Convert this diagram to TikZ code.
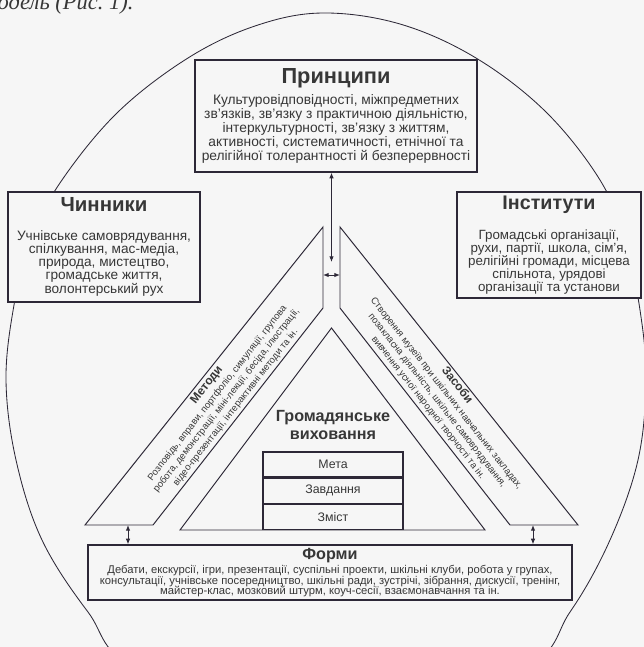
\documentclass[tikz,border=0pt]{standalone}
\usepackage{fontspec}
\setmainfont{Liberation Sans}
\newfontfamily\serifcap{Liberation Serif}
\usepackage{tikz}
\usetikzlibrary{positioning, arrows.meta, calc}

\definecolor{liniya}{RGB}{45,40,55}
\definecolor{tekst}{RGB}{55,55,55}
\definecolor{tlo}{RGB}{246,246,246}

\tikzset{
  blok/.style={draw=liniya, fill=tlo, line width=0.9pt, rectangle, align=center, text=tekst, inner sep=1pt},
  smuga/.style={draw=liniya, line width=0.7pt},
  dvostr/.style={{Latex[length=4pt,width=3.2pt]}-{Latex[length=4pt,width=3.2pt]}, draw=liniya, line width=0.7pt},
  smugatxt/.style={align=center, text=tekst, inner sep=0pt, font=\fontsize{6.8}{8.2}\selectfont},
  riadok/.style={blok, line width=0.8pt, minimum width=3.5cm, minimum height=0.625cm, font=\fontsize{8.8}{10}\selectfont},
}

\begin{document}
\begin{tikzpicture}[x=0.025cm, y=-0.025cm]
  \fill[tlo] (0,0) rectangle (644,647);
  \useasboundingbox (0,0) rectangle (644,647);

  % outline and page text
  \begin{scope}
    \clip (0,0) rectangle (644,647);
    \draw[liniya, line width=0.6pt] plot[smooth cycle, tension=0.6] coordinates {
      (322,13) (255,26) (188,58) (118,112) (62,180) (30,240) (14,305) (6,380)
      (16,460) (42,540) (88,612) (140,670) (330,720) (520,670) (570,612)
      (610,540) (638,460) (646,380) (640,310) (625,240) (600,180) (546,112)
      (476,58) (400,24)};
    \node[anchor=base west, inner sep=0pt, text=tekst, font=\serifcap\itshape\fontsize{16}{16}\selectfont] (pidpys) at (-17,9) {модель (Рис.~1).};
  \end{scope}

  % Principles
  \node[blok, minimum width=7.05cm, minimum height=2.8cm, font=\fontsize{9.8}{10}\selectfont] (pryntsypy) at (336,116) {
    {\bfseries\fontsize{15.5}{16}\selectfont Принципи}\\[4pt]
    Культуровідповідності, міжпредметних\\
    зв'язків, зв'язку з практичною діяльністю,\\
    інтеркультурності, зв'язку з життям,\\
    активності, систематичності, етнічної та\\
    релігійної толерантності й безперервності
  };

  % Factors
  \node[blok, minimum width=4.8cm, minimum height=2.75cm, font=\fontsize{9.7}{9.2}\selectfont] (chynnyky) at (104,247) {
    {\bfseries\fontsize{14.5}{15}\selectfont Чинники}\\[11pt]
    Учнівське самоврядування,\\
    спілкування, мас-медіа,\\
    природа, мистецтво,\\
    громадське життя,\\
    волонтерський рух
  };

  % Institutions
  \node[blok, minimum width=4.6cm, minimum height=2.65cm, font=\fontsize{9.5}{9.2}\selectfont] (instytuty) at (549,245) {
    {\bfseries\fontsize{14}{15}\selectfont Інститути}\\[11pt]
    Громадські організації,\\
    рухи, партії, школа, сім'я,\\
    релігійні громади, місцева\\
    спільнота, урядові\\
    організації та установи
  };

  % Forms
  \node[blok, minimum width=12.1cm, minimum height=1.375cm, font=\fontsize{8}{7.6}\selectfont] (formy) at (330,572.5) {
    {\bfseries\fontsize{11.5}{12}\selectfont Форми}\\[1pt]
    Дебати, екскурсії, ігри, презентації, суспільні проекти, шкільні клуби, робота у групах,\\
    консультації, учнівське посередництво, шкільні ради, зустрічі, зібрання, дискусії, тренінг,\\
    майстер-клас, мозковий штурм, коуч-сесії, взаємонавчання та ін.
  };

  % Methods band
  \coordinate (metnz) at (85,525);
  \coordinate (metnv) at (153,525);
  \coordinate (metvv) at (323,308);
  \coordinate (metvz) at (323,227);
  \draw[smuga] (metnz) -- (metnv) -- (metvv) -- (metvz) -- cycle;
  \node[smugatxt, rotate=52] (metody) at (221,396) {
    {\bfseries\fontsize{8.5}{9}\selectfont Методи}\\[1pt]
    Розповідь, вправи, портфоліо, симуляції, групова\\
    робота, демонстрації, міні-лекції, бесіда, ілюстрації,\\
    відео-презентації, інтерактивні методи та ін.
  };

  % Means band
  \coordinate (zasnz) at (578,525);
  \coordinate (zasnv) at (510,525);
  \coordinate (zasvv) at (340,308);
  \coordinate (zasvz) at (340,227);
  \draw[smuga] (zasnz) -- (zasnv) -- (zasvv) -- (zasvz) -- cycle;
  \node[smugatxt, rotate=-52] (zasoby) at (443,396) {
    {\bfseries\fontsize{8.5}{9}\selectfont Засоби}\\[1pt]
    Створення музеїв при шкільних навчальних закладах,\\
    позакласна діяльність, шкільне самоврядування,\\
    вивчення усної народної творчості та ін.
  };

  % Civic education
  \draw[smuga] (331.5,328) coordinate (vershyna) -- (180,530) coordinate (livyi) -- (485,530) coordinate (pravyi) -- cycle;
  \node[align=center, text=tekst, font=\bfseries\fontsize{11.5}{13}\selectfont] (vykhovannia) at (333,425) {Громадянське\\виховання};
  \node[riadok] (meta) at (333,464.5) {Мета};
  \node[riadok, below=0pt of meta] (zavdannia) {Завдання};
  \node[riadok, below=0pt of zavdannia] (zmist) {Зміст};

  % Relationships
  \coordinate (strilka) at (331.5,262);
  \draw[dvostr] (pryntsypy.south -| strilka) -- (strilka);
  \coordinate (mlivo) at (323,275);
  \coordinate (zpravo) at (340,275);
  \draw[dvostr] (mlivo) -- (zpravo);
  \coordinate (metstr) at (128,525);
  \coordinate (zasstr) at (533,525);
  \draw[dvostr] (metstr) -- (formy.north -| metstr);
  \draw[dvostr] (zasstr) -- (formy.north -| zasstr);
\end{tikzpicture}
\end{document}
